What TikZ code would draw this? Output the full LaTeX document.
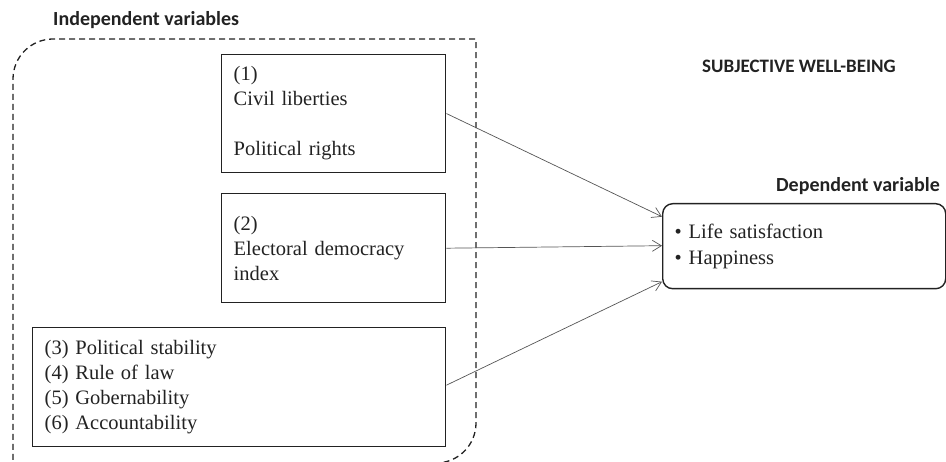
\documentclass[tikz,border=0pt]{standalone}
\usepackage{fontspec}
\setmainfont{Liberation Serif}
\newfontfamily\lblfont{Carlito}
\usetikzlibrary{arrows.meta,calc}
\definecolor{ink}{HTML}{222222}
\definecolor{arr}{HTML}{555555}
\tikzset{
  varbox/.style={draw=ink, line width=1.4pt, text=ink, align=left, inner sep=12pt,
    font=\fontsize{20.5}{25}\selectfont, anchor=north west},
  lbl/.style={font=\lblfont\bfseries\fontsize{20}{22}\selectfont, text=ink, inner sep=0pt},
  conn/.style={draw=arr, line width=0.7pt, -{Straight Barb[length=9pt,width=11pt]}},
  region/.style={draw=ink, line width=1.3pt, dash pattern=on 6pt off 4pt}
}
\begin{document}
\begin{tikzpicture}[x=1pt,y=-1pt]
\useasboundingbox (0,0) rectangle (946,462);
\clip (0,0) rectangle (946,462);
\draw[region] (13,480) [rounded corners=40pt] -- (13,39) [sharp corners] -- (476,39) [rounded corners=40pt] -- (476,463) -- (380,463);
\node[lbl, anchor=west] (indep) at (53,20) {Independent variables};
\node[lbl, anchor=west, font=\lblfont\bfseries\fontsize{19}{22}\selectfont] (swb) at (702,66) {SUBJECTIVE WELL-BEING};
\node[lbl, anchor=east] (deplbl) at (940,186) {Dependent variable};
\node[varbox, text width=200pt, minimum height=110pt] (b1) at (221,54) {(1)\\Civil liberties\\[25pt]Political rights};
\node[varbox, text width=200pt, minimum height=109pt] (b2) at (221,193) {(2)\\Electoral democracy\\index};
\node[varbox, text width=389pt, minimum height=119pt] (b3) at (32,327) {(3) Political stability\\(4) Rule of law\\(5) Gobernability\\(6) Accountability};
\node[draw=ink, line width=1.4pt, rounded corners=10pt, text=ink, align=left, anchor=north west,
  text width=259pt, minimum height=85pt, inner sep=12pt, inner ysep=0pt,
  font=\fontsize{20.5}{26}\selectfont] (dep) at (662,203) {\textbullet\ Life satisfaction\\\textbullet\ Happiness};
\coordinate (e1) at ([yshift=29.5pt]dep.west);
\coordinate (e2) at ([yshift=0.5pt]dep.west);
\coordinate (e3) at ([yshift=-35.5pt]dep.west);
\draw[conn] (b1.east) -- (e1);
\draw[conn] (b2.east) -- (e2);
\draw[conn] ([yshift=2pt]b3.east) -- (e3);
\end{tikzpicture}
\end{document}
